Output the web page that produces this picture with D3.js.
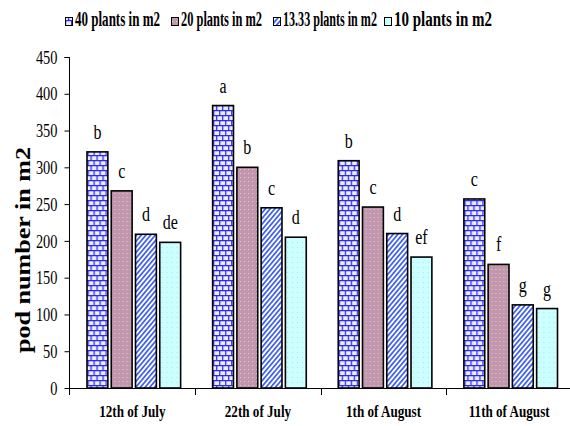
<!DOCTYPE html>
<html><head><meta charset="utf-8">
<script src="https://cdn.jsdelivr.net/npm/d3@7"></script>
<style>body{margin:0;background:#fff}svg{display:block}text{font-family:"Liberation Serif","Times New Roman","DejaVu Serif",serif}</style>
</head><body>
<svg id="c" width="570" height="426"></svg>
<script>
const categories = ["12th of July","22th of July","1th of August","11th of August"];
const series = ["40 plants in m2","20 plants in m2","13.33 plants in m2","10 plants in m2"];
const plants40 = [321,384,309,257];
const plants20 = [268,300,246,168];
const plants13 = [209,245,210,113];
const plants10 = [198,205,178,108];
const letters40 = ["b","a","b","c"];
const letters20 = ["c","b","c","f"];
const letters13 = ["d","c","d","g"];
const letters10 = ["de","d","ef","g"];
const yTicks = [0,50,100,150,200,250,300,350,400,450];

const values = [plants40, plants20, plants13, plants10];
const letters = [letters40, letters20, letters13, letters10];
const SERIF = '"Liberation Serif","Times New Roman","DejaVu Serif",serif';

const svg = d3.select("#c");
const defs = svg.append("defs");

// brick
const pb = defs.append("pattern").attr("id","p0").attr("patternUnits","userSpaceOnUse").attr("width",6).attr("height",10);
pb.append("rect").attr("width",6).attr("height",10).attr("fill","#eeeeff");
pb.append("path").attr("d","M0,0.6H6M0,5.6H6M0.6,0V5.6M3.6,5.6V10").attr("stroke","#2a2af0").attr("stroke-width",1.3).attr("fill","none");
// mauve dots
const pm = defs.append("pattern").attr("id","p1").attr("patternUnits","userSpaceOnUse").attr("width",4).attr("height",4);
pm.append("rect").attr("width",4).attr("height",4).attr("fill","#c296ac");
pm.append("rect").attr("x",1).attr("y",1).attr("width",1).attr("height",1).attr("fill","#e6cbd8");
// stripes
const ps = defs.append("pattern").attr("id","p2").attr("patternUnits","userSpaceOnUse").attr("width",3.6).attr("height",10).attr("patternTransform","rotate(40)");
ps.append("rect").attr("width",3.6).attr("height",10).attr("fill","#ffffff");
ps.append("rect").attr("width",1.7).attr("height",10).attr("fill","#3a5cf0");
// cyan dots
const pc = defs.append("pattern").attr("id","p3").attr("patternUnits","userSpaceOnUse").attr("width",5).attr("height",5);
pc.append("rect").attr("width",5).attr("height",5).attr("fill","#ccffff");
pc.append("rect").attr("x",2).attr("y",2).attr("width",1).attr("height",1).attr("fill","#a8e4e8");

const fills = ["url(#p0)","url(#p1)","url(#p2)","url(#p3)"];

const x0 = d3.scaleBand().domain(categories).range([69.5, 572]).paddingInner(0).paddingOuter(0);
const x1 = d3.scaleBand().domain(series).range([17.5, x0.bandwidth()-14.5]).paddingInner(0.14).paddingOuter(0);
const y = d3.scaleLinear().domain([0,450]).range([388,57]);

// y axis
const yAxis = d3.axisLeft(y).tickValues(yTicks).tickSize(5).tickPadding(7).tickFormat(d3.format("d"));
const gy = svg.append("g").attr("transform","translate(69.5,0)").call(yAxis);
gy.attr("font-family",SERIF);
gy.select(".domain").attr("d","M-5,57.5H0V395");
gy.selectAll(".tick line").attr("stroke","#000");
gy.selectAll(".domain").attr("stroke","#000");
gy.selectAll("text").attr("font-family",SERIF).attr("font-size",18).attr("fill","#000")
  .attr("transform","scale(0.8,1)").attr("x",-12/0.8).attr("dy","0.34em");

// x baseline and boundary ticks
svg.append("line").attr("x1",69.5).attr("x2",572).attr("y1",388.5).attr("y2",388.5).attr("stroke","#000");
const bounds = categories.map(c => x0(c)).concat([x0.range()[1]]);
svg.selectAll(".xt").data(bounds.slice(1)).join("line").attr("class","xt")
  .attr("x1",d=>Math.round(d)+0.5).attr("x2",d=>Math.round(d)+0.5).attr("y1",388).attr("y2",395).attr("stroke","#000");

// bars
const groups = svg.selectAll(".grp").data(categories).join("g").attr("class","grp")
  .attr("transform",c=>`translate(${x0(c)},0)`);
series.forEach((s,si)=>{
  groups.append("rect")
    .attr("x",(c,ci)=>x1(s))
    .attr("y",(c,ci)=>y(values[si][ci]))
    .attr("width",x1.bandwidth())
    .attr("height",(c,ci)=>y(0)-y(values[si][ci]))
    .attr("fill",fills[si]).attr("stroke","#000").attr("stroke-width",1.6);
  groups.append("text")
    .attr("transform",(c,ci)=>`translate(${x1(s)+x1.bandwidth()/2},${y(values[si][ci])-13}) scale(0.8,1)`)
    .attr("text-anchor","middle").attr("font-family",SERIF).attr("font-size",20).attr("fill","#000")
    .text((c,ci)=>letters[si][ci]);
});

// x labels
svg.selectAll(".xl").data(categories).join("text").attr("class","xl")
  .attr("transform",c=>`translate(${x0(c)+x0.bandwidth()/2},417) scale(0.82,1)`)
  .attr("text-anchor","middle").attr("font-family",SERIF).attr("font-weight","bold").attr("font-size",16).attr("fill","#000")
  .text(c=>c);

// y title
const yt = svg.append("text")
  .attr("text-anchor","middle").attr("font-family",SERIF).attr("font-weight","bold").attr("font-size",22).attr("fill","#000")
  .text("pod number in m2");
const ytw = yt.node().getComputedTextLength();
yt.attr("transform",`translate(30,250) rotate(-90) scale(${206/ytw},1)`);

// legend
const legX = [65,171,273,384];
const legW = [85,81,94,98];
const leg = svg.selectAll(".lg").data(series).join("g").attr("class","lg")
  .attr("transform",(d,i)=>`translate(${legX[i]},0)`);
leg.append("rect").attr("x",0.5).attr("y",17.5).attr("width",7).attr("height",8)
  .attr("fill",(d,i)=>fills[i]).attr("stroke","#000").attr("stroke-width",1);
leg.append("text").attr("font-family",SERIF).attr("font-weight","bold").attr("font-size",21).attr("fill","#000")
  .text(d=>d)
  .each(function(d,i){
    const w = this.getComputedTextLength();
    d3.select(this).attr("transform",`translate(10,26) scale(${legW[i]/w},1)`);
  });
</script>
</body></html>
